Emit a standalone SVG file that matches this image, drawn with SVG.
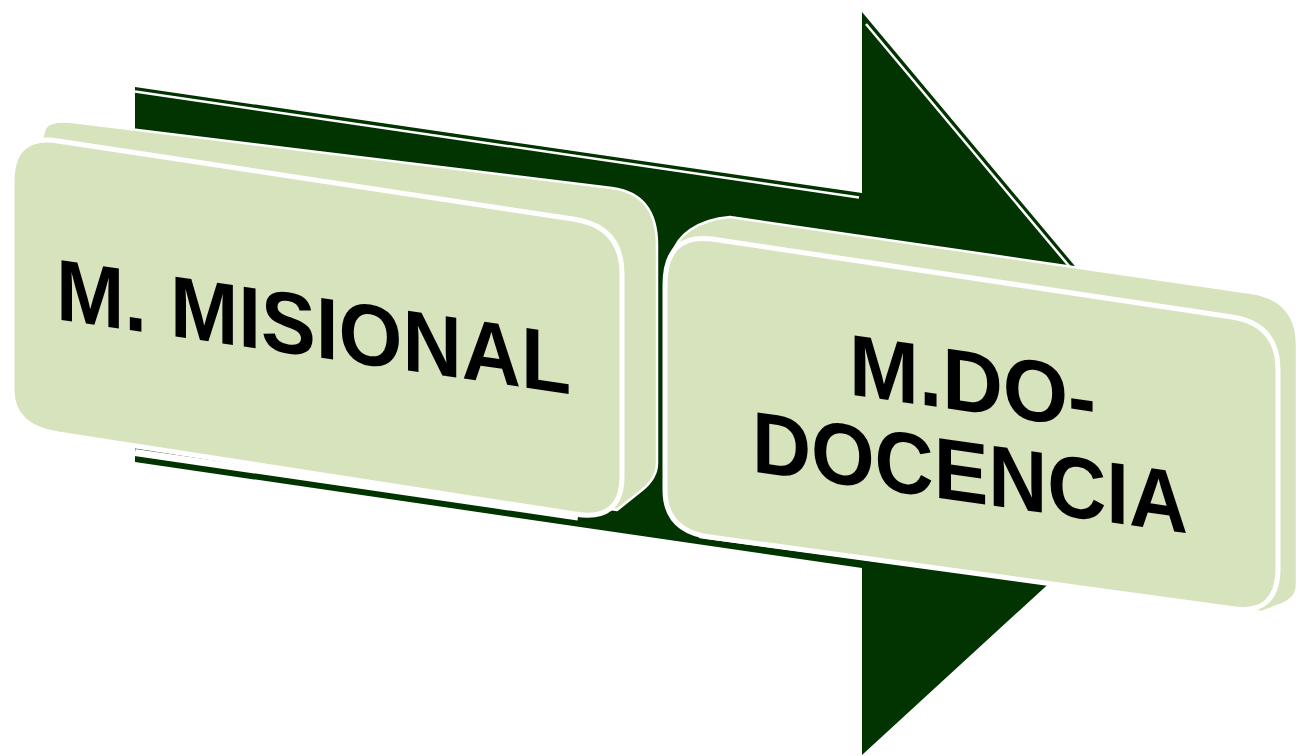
<svg xmlns="http://www.w3.org/2000/svg" width="1299" height="756" viewBox="0 0 1299 756">
  <style>
    .arrow { fill: #013401; }
    .bevel { fill: none; stroke: #ffffff; stroke-width: 2.5; }
    .side { fill: #d6e3bc; stroke: #ffffff; stroke-width: 2.5; stroke-linejoin: round; }
    .front { fill: #d6e3bc; stroke: #ffffff; stroke-width: 5; stroke-linejoin: round; }
    .label { font-family: "Liberation Sans", Arial, sans-serif; font-weight: bold; font-size: 87px; fill: #000000; }
  </style>
  <rect width="1299" height="756" fill="#ffffff"/>
  <g id="connectors">
    <path class="arrow" d="M 135,87 L 862,193 L 862,12 L 1214,432 L 862,755 L 862,568 L 135,462 Z"/>
    <polyline class="bevel" points="135,91.5 859,197.5"/>
    <polyline class="bevel" points="866,24 1205,428"/>
    <line x1="135" y1="452.5" x2="578" y2="517" stroke="#ffffff" stroke-width="7"/>
  </g>
  <g id="node-misional">
    <path class="side" d="M 40,146 L 45,128 Q 50,120 72,122 L 612,188 Q 657,194 657,245 L 657,463 Q 657,478 642,490 L 617,510 L 40,420 Z"/>
    <path class="front" d="M 12,182 Q 12,134 58,141 L 573,219 Q 622,226 622,274 L 622,476 Q 622,522 575,514 L 58,434 Q 12,427 12,390 Z"/>
    <text class="label" transform="skewY(8.3)" x="56" y="311" textLength="515" lengthAdjust="spacingAndGlyphs">M. MISIONAL</text>
  </g>
  <g id="node-docencia">
    <path class="side" d="M 666,290 Q 666,246 690,230 Q 706,219 730,217 L 1252,293 Q 1297,300 1297,345 L 1297,586 Q 1297,596 1285,603 L 1262,612 L 700,537 Z"/>
    <path class="front" d="M 665,285 Q 665,233 712,239 L 1232,317 Q 1278,324 1278,370 L 1278,568 Q 1278,614 1235,609 L 710,537 Q 665,531 665,490 Z"/>
    <text class="label" transform="skewY(8.1)" x="849" y="273.6" textLength="247" lengthAdjust="spacingAndGlyphs">M.DO-</text>
    <text class="label" transform="skewY(8.1)" x="752" y="364.4" textLength="436" lengthAdjust="spacingAndGlyphs">DOCENCIA</text>
  </g>
</svg>
